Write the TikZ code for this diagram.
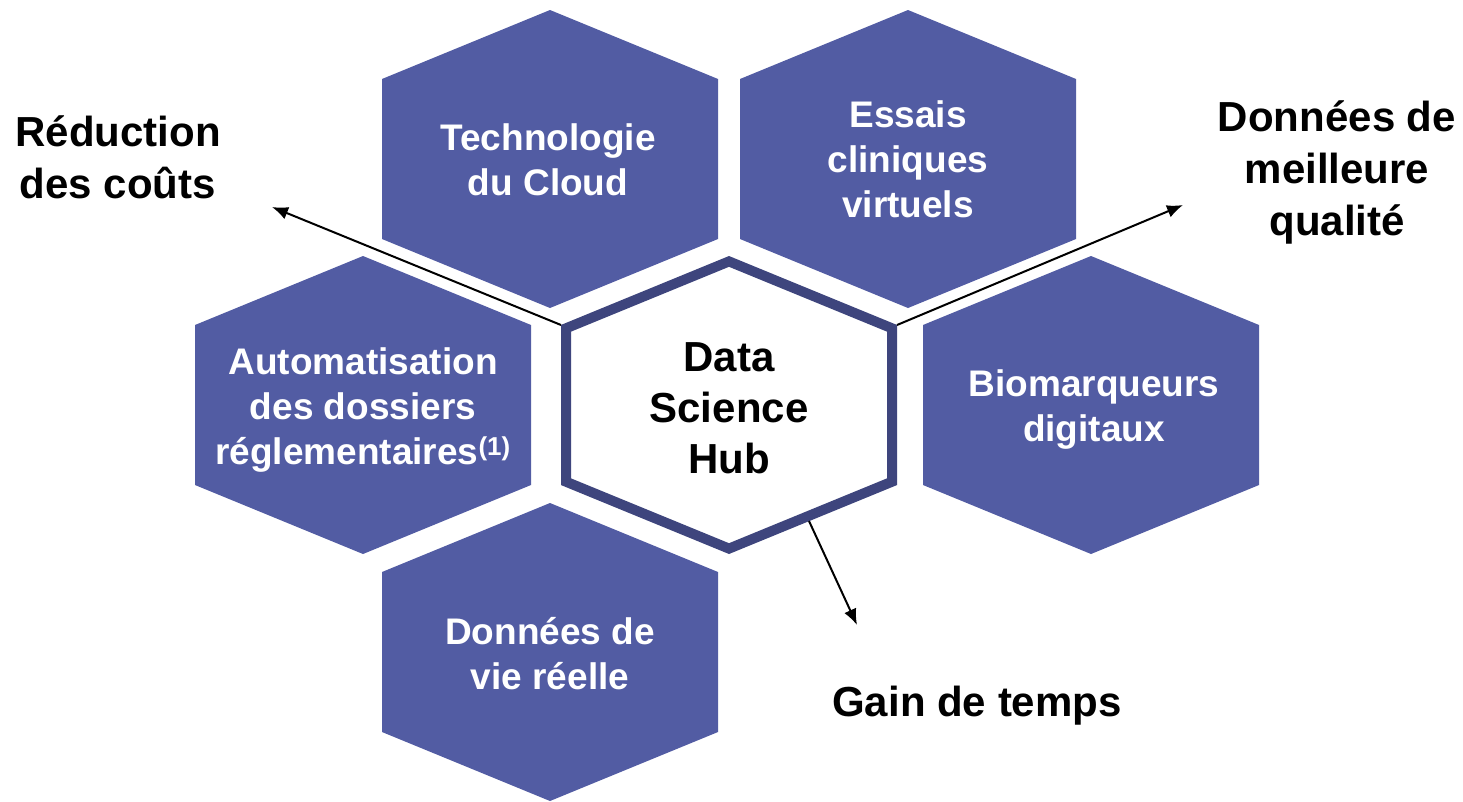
\documentclass[tikz,border=0pt]{standalone}
\usepackage{fontspec}
\setmainfont{Liberation Sans}
\usetikzlibrary{arrows.meta,calc}
\definecolor{hexfill}{RGB}{82,92,163}
\definecolor{hubline}{RGB}{62,69,125}
\tikzset{
  hexshape/.pic={\fill[hexfill] (0,-149) -- (168,-80) -- (168,80) -- (0,149) -- (-168,80) -- (-168,-80) -- cycle;},
  hublbl/.style={align=center,text=black,font=\bfseries\fontsize{42}{51}\selectfont,inner sep=0pt},
  hexlbl/.style={align=center,text=white,font=\bfseries\fontsize{37}{45}\selectfont,inner sep=0pt},
  outlbl/.style={align=center,text=black,font=\bfseries\fontsize{42}{52}\selectfont,inner sep=0pt},
  arr/.style={line width=2pt,-{Latex[length=16pt,width=13pt]}}
}
\begin{document}
\begin{tikzpicture}[x=1pt,y=-1pt]
\useasboundingbox (0,0) rectangle (1463,801);
% hexagons
\pic at (550,159) {hexshape};
\pic at (908,159) {hexshape};
\pic at (363,405) {hexshape};
\pic at (1091,405) {hexshape};
\pic at (550,652) {hexshape};
% hub
\fill[white] (729,405) ++(0,-149) -- ++(168,69) -- ++(0,160) -- ++(-168,69) -- ++(-168,-69) -- ++(0,-160) -- cycle;
\draw[hubline,line width=10pt,line join=miter] (729,405) ++(0,-143.6) -- ++(163,66.9) -- ++(0,153.4) -- ++(-163,66.9) -- ++(-163,-66.9) -- ++(0,-153.4) -- cycle;
% labels
\node[hexlbl] (tech) at (548,160) {Technologie\\du Cloud};
\node[hexlbl] (essais) at (908,159) {Essais\\cliniques\\virtuels};
\node[hexlbl] (auto) at (363,410) {Automatisation\\des dossiers\\réglementaires\textsuperscript{(1)}};
\node[hublbl] (hub) at (729,408) {Data\\Science\\Hub};
\node[hexlbl] (bio) at (1094,410) {Biomarqueurs\\digitaux};
\node[hexlbl] (rwd) at (550,654) {Données de\\vie réelle};
\node[outlbl] (cost) at (118,157) {Réduction\\des coûts};
\node[outlbl] (qual) at (1337,172) {Données de\\meilleure\\qualité};
\node[outlbl] (time) at (977,706) {Gain de temps};
% connector points
\coordinate (hubUL) at (561,325);
\coordinate (hubUR) at (897,325);
\coordinate (hubLR) at (809,521);
\coordinate (costTip) at (272,207);
\coordinate (qualTip) at (1183,205);
\coordinate (timeTip) at (857,625);
\draw[arr] (hubUL) -- (costTip);
\draw[arr] (hubUR) -- (qualTip);
\draw[arr] (hubLR) -- (timeTip);
\end{tikzpicture}
\end{document}
